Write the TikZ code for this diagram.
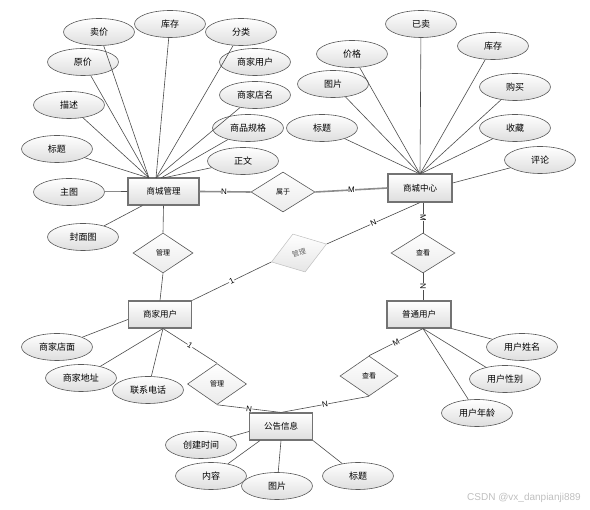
\documentclass[tikz,border=0pt]{standalone}
\usepackage{fontspec}
\setmainfont{Noto Sans CJK SC}
\newfontfamily\latinfont{Liberation Sans}
\usetikzlibrary{shapes.geometric}
\begin{document}
\begin{tikzpicture}[x=1pt,y=-1pt,
 attr/.style={ellipse, draw=black!65, line width=0.6pt, top color=white, bottom color=black!13, minimum width=71pt, minimum height=27pt, inner sep=0pt, font=\fontsize{9}{10}\selectfont},
 ent/.style={rectangle, draw=black!55, line width=1.1pt, top color=white, bottom color=black!13, minimum width=64pt, minimum height=27pt, inner sep=0pt, font=\fontsize{8.5}{10}\selectfont},
 rel/.style={diamond, draw=black!65, line width=0.6pt, top color=white, bottom color=black!8, minimum width=62pt, minimum height=40pt, inner sep=0pt, font=\fontsize{7}{8}\selectfont},
 ln/.style={draw=black!70, line width=0.6pt},
 relline/.style={draw=black!45, line width=1.6pt},
 card/.style={fill=white, inner sep=0.5pt, font=\latinfont\fontsize{8}{9}\selectfont},
]
\useasboundingbox (0,0) rectangle (590,510);

% entities
\node[ent, minimum width=71pt] (mgmt) at (163.5,191.5) {商城管理};
\node[ent, minimum height=28pt] (ctr) at (420,188) {商城中心};
\node[ent, minimum width=63pt] (muser) at (160,314.5) {商家用户};
\node[ent] (user) at (419,314.5) {普通用户};
\node[ent, minimum width=63pt] (notice) at (281,426.5) {公告信息};

% relationships
\node[rel, minimum width=64pt] (shuyu) at (283,192) {属于};
\node[rel, minimum width=60pt] (gl1) at (163,253) {管理};
\node[rel, minimum width=64pt] (ck1) at (423,253) {查看};
\node[diamond, draw=black!25, line width=0.5pt, top color=white, bottom color=black!10, minimum width=58pt, minimum height=40pt, inner sep=0pt, rotate=18, text=black!60, font=\fontsize{7}{8}\selectfont] (gl2) at (299,253) {管理};
\node[rel, minimum width=59pt, minimum height=41pt] (gl3) at (217,384) {管理};
\node[rel, minimum width=58pt] (ck2) at (369,376) {查看};

% attributes of 商城管理
\node[attr] (a1) at (99,32) {卖价};
\node[attr] (a2) at (170,24) {库存};
\node[attr] (a3) at (241,32) {分类};
\node[attr] (a4) at (83,62) {原价};
\node[attr] (a5) at (255,62) {商家用户};
\node[attr] (a6) at (69,105) {描述};
\node[attr] (a7) at (255,95) {商家店名};
\node[attr] (a8) at (248,128) {商品规格};
\node[attr] (a9) at (57,149) {标题};
\node[attr] (a10) at (243,161) {正文};
\node[attr] (a11) at (69,192) {主图};
\node[attr] (a12) at (83,237) {封面图};

% attributes of 商城中心
\node[attr] (b1) at (421,24) {已卖};
\node[attr] (b2) at (352,54) {价格};
\node[attr] (b3) at (493,46) {库存};
\node[attr] (b4) at (333,84) {图片};
\node[attr] (b5) at (515,87) {购买};
\node[attr] (b6) at (322,128) {标题};
\node[attr] (b7) at (515,128) {收藏};
\node[attr] (b8) at (540,160) {评论};

% attributes of 商家用户
\node[attr] (c1) at (57,347) {商家店面};
\node[attr] (c2) at (81,378) {商家地址};
\node[attr] (c3) at (148,390) {联系电话};

% attributes of 普通用户
\node[attr] (d1) at (522,347) {用户姓名};
\node[attr] (d2) at (505,379) {用户性别};
\node[attr] (d3) at (477,413) {用户年龄};

% attributes of 公告信息
\node[attr] (e1) at (201,445) {创建时间};
\node[attr] (e2) at (211,476) {内容};
\node[attr] (e3) at (277,486) {图片};
\node[attr] (e4) at (358,476) {标题};

% convergence points
\coordinate (mgL) at (149,178);
\coordinate (mgM) at (156,178);
\coordinate (mgR) at (161,178);
\coordinate (ctT) at (420,174);

% attribute lines 商城管理
\draw[ln] (a1) -- (mgL);
\draw[ln] (a2) -- (mgM);
\draw[ln] (a3) -- (mgM);
\draw[ln] (a4) -- (mgL);
\draw[ln] (a6) -- (mgL);
\draw[ln] (a7) -- (mgM);
\draw[ln] (a8) -- (mgR);
\draw[ln] (a9) -- (mgL);
\draw[ln] (a10) -- ([xshift=2pt]mgR);
\draw[ln] (a11) -- (mgmt.west);
\draw[ln] (a12) -- ([xshift=-21pt]mgmt.south);

% attribute lines 商城中心
\foreach \n in {b1,b2,b3,b4,b5,b6,b7} \draw[ln] (\n) -- (ctT);
\draw[ln] (b8) -- ([yshift=5pt]ctr.east);

% attribute lines 商家用户
\draw[ln] (c1) -- ([yshift=-5pt]muser.west);
\draw[ln] (c2) -- ([xshift=3pt]muser.south);
\draw[ln] (c3) -- ([xshift=3pt]muser.south);

% attribute lines 普通用户
\draw[ln] (d1) -- (user.south east);
\draw[ln] (d2) -- ([xshift=4pt]user.south);
\draw[ln] (d3) -- ([xshift=4pt]user.south);

% attribute lines 公告信息
\draw[ln] (e1) -- ([yshift=-5pt]notice.west);
\draw[ln] (e2) -- ([xshift=-21pt]notice.south);
\draw[ln] (e3) -- (notice.south);
\draw[ln] (e4) -- (notice.south east);

% relationship lines
\draw[relline] (mgmt.east) -- node[card, pos=0.48]{N} (shuyu.west);
\draw[relline] (shuyu.east) -- node[card]{M} (ctr.west);
\draw[ln] (mgmt.south) -- (gl1.north);
\draw[ln] (gl1.south) -- (muser.north);
\draw[ln] ([xshift=3pt]ctr.south) -- node[card, sloped]{M} (ck1.north);
\draw[ln] (ck1.south) -- node[card, sloped]{N} ([xshift=4pt]user.north);
\draw[ln] (ctr.south) -- node[card, sloped]{N} (gl2.east);
\draw[ln] (muser.north east) -- node[card, sloped]{1} (gl2.west);
\draw[ln] ([xshift=3pt]muser.south) -- node[card, sloped]{1} (gl3.north);
\draw[ln] (gl3.south) -- node[card, sloped]{N} (notice.north);
\draw[ln] ([xshift=4pt]user.south) -- node[card, sloped]{M} (ck2.north);
\draw[ln] (ck2.south) -- node[card, sloped]{N} (notice.north);

% watermark
\node[text=black!25, font=\latinfont\fontsize{10}{12}\selectfont, inner sep=0pt] (wm) at (524,498) {CSDN @vx\_danpianji889};
\end{tikzpicture}
\end{document}
